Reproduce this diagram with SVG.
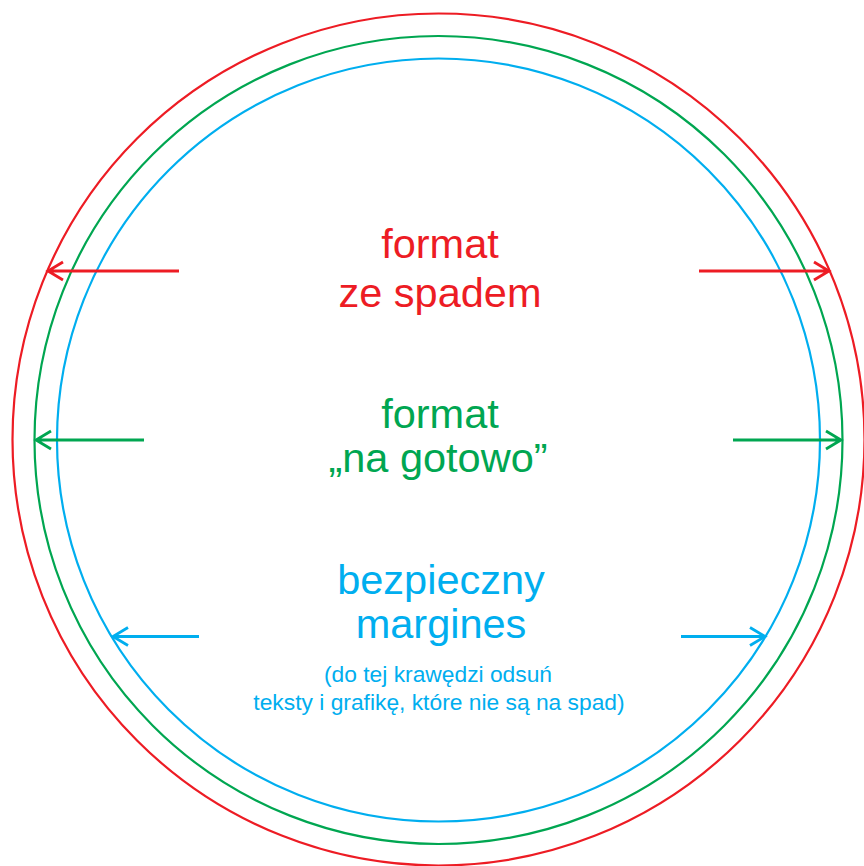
<svg xmlns="http://www.w3.org/2000/svg" width="864" height="866" viewBox="0 0 864 866">
<style>
.c{fill:none;stroke-width:2.2}
.a{fill:none;stroke-width:2.8;stroke-linecap:butt;stroke-linejoin:miter}
text{font-family:"Liberation Sans",Arial,sans-serif;text-anchor:middle}
.big{font-size:41.5px}
.sm{font-size:22.8px}
.r{stroke:#ED1C24}.g{stroke:#00A651}.b{stroke:#00AEEF}
.tr{fill:#ED1C24}.tg{fill:#00A651}.tb{fill:#00AEEF}
</style>
<rect width="864" height="866" fill="#fff"/>
<g id="bleed-circle"><circle class="c r" cx="438.5" cy="439.5" r="426"/></g>
<g id="trim-circle"><circle class="c g" cx="438.5" cy="440" r="404"/></g>
<g id="safe-circle"><circle class="c b" cx="438.5" cy="440" r="381.5"/></g>
<g id="connectors">
<path class="a r" d="M179 271H48M63 262L48 271L63 280"/>
<path class="a r" d="M699 271H829M814 262L829 271L814 280"/>
<path class="a g" d="M144 440H36M51 431L36 440L51 449"/>
<path class="a g" d="M733 440H841M826 431L841 440L826 449"/>
<path class="a b" d="M199 636.5H113M128 627.5L113 636.5L128 645.5"/>
<path class="a b" d="M681 636.5H765M750 627.5L765 636.5L750 645.5"/>
</g>
<g id="label-bleed"><text class="big tr" x="440" y="258">format</text><text class="big tr" x="440" y="307">ze spadem</text></g>
<g id="label-trim"><text class="big tg" x="440" y="428">format</text><text class="big tg" x="438" y="472">„na gotowo”</text></g>
<g id="label-safe"><text class="big tb" x="441" y="594">bezpieczny</text><text class="big tb" x="441" y="638">margines</text>
<text class="sm tb" x="438" y="682">(do tej krawędzi odsuń</text><text class="sm tb" x="439" y="710">teksty i grafikę, które nie są na spad)</text></g>
</svg>
